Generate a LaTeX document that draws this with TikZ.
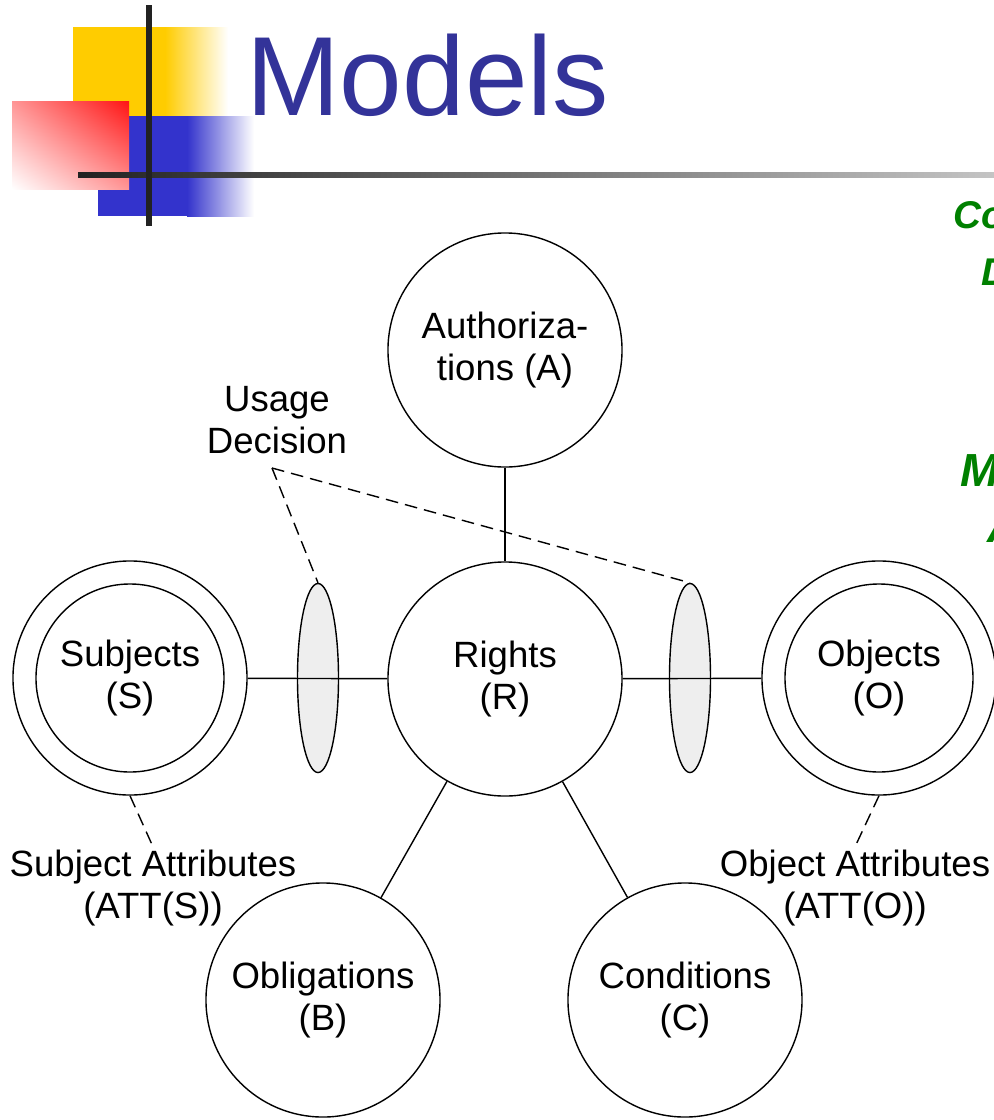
\documentclass[tikz,border=0pt]{standalone}
\usepackage{fontspec}
\setmainfont{Liberation Sans}
\usetikzlibrary{shapes.geometric,shadings}
\definecolor{titleblue}{HTML}{333399}
\definecolor{logoyellow}{HTML}{FFCC00}
\definecolor{logoblue}{HTML}{3333CC}
\definecolor{logored}{HTML}{FF1414}
\definecolor{bardark}{HTML}{222222}
\definecolor{barlight}{HTML}{C4C4C4}
\definecolor{gategray}{HTML}{EEEEEE}
\definecolor{sidegreen}{HTML}{008000}
\newcommand{\ucfont}{\fontsize{26}{30}\selectfont}
\newcommand{\titlefont}{\fontsize{80}{92}\selectfont}
\begin{document}
\begin{tikzpicture}[x=0.025cm, y=-0.025cm, font=\ucfont,
  entity/.style={circle, draw, line width=1pt, minimum size=5.85cm, inner sep=0pt, align=center},
  core/.style={circle, draw, line width=1pt, minimum size=4.7cm, inner sep=0pt, align=center},
  gate/.style={ellipse, draw, line width=1pt, fill=gategray, minimum width=1.025cm, minimum height=4.725cm, inner sep=0pt},
  link/.style={line width=1pt},
  hint/.style={line width=1pt, dash pattern=on 9pt off 5pt},
  note/.style={align=center, inner sep=2pt},
  side/.style={anchor=base, inner sep=0pt, text=sidegreen, font=\bfseries\itshape}]
  \useasboundingbox (0,0) rectangle (994,1120);
  \clip (0,0) rectangle (994,1120);
  % 标志
  \fill[logoyellow] (73,27) rectangle (165,116);
  \shade[left color=logoyellow, right color=white] (165,27) rectangle (228,116);
  \fill[logoblue] (98,116) rectangle (187,216);
  \shade[left color=logoblue, right color=white] (187,116) rectangle (254,216);
  \shade[upper right=logored, lower left=white, upper left=logored!45!white,
    lower right=logored!45!white] (12,101) rectangle (129,189);
  \shade[left color=bardark, right color=barlight] (78,172) rectangle (994,177);
  \fill[bardark] (146,5) rectangle (152,226);
  % 标题
  \node[anchor=base west, text=titleblue, font=\titlefont, inner sep=0pt] (title) at (246,115) {Models};
  % 右侧文字
  \node[side, font=\fontsize{27.5}{32}\selectfont\bfseries\itshape] (cont) at (1073,228) {Continuity of};
  \node[side, font=\fontsize{27.5}{32}\selectfont\bfseries\itshape] (dec) at (1073,285) {Decisions};
  \node[side, font=\fontsize{33}{38}\selectfont\bfseries\itshape] (mut) at (1097,486) {Mutability of};
  \node[side, font=\fontsize{33}{38}\selectfont\bfseries\itshape] (attr) at (1097,542) {Attributes};
  % 组件
  \node[entity] (A) at (505,350) {Authoriza-\\tions (A)};
  \node[entity] (R) at (505,679) {Rights\\(R)};
  \node[entity] (So) at (130,678) {};
  \node[core] (S) at (130,678) {Subjects\\(S)};
  \node[entity] (Oo) at (879,678) {};
  \node[core] (O) at (879,678) {Objects\\(O)};
  \node[entity] (B) at (323,1000) {Obligations\\(B)};
  \node[entity] (C) at (685,1000) {Conditions\\(C)};
  % 使用决策
  \node[gate] (gS) at (318,678) {};
  \node[gate] (gO) at (690,678) {};
  \node[note] (ud) at (277,420) {Usage\\Decision};
  \coordinate (udp) at (272,468);
  % 连线
  \draw[link] (So) -- (R);
  \draw[link] (R) -- (Oo);
  \draw[link] (A) -- (R);
  \draw[link] (R) -- (B);
  \draw[link] (R) -- (C);
  \draw[hint] (udp) -- (gS.north);
  \draw[hint] (udp) -- (gO.north);
  % 属性
  \node[note] (attS) at (153,888) {Subject Attributes\\(ATT(S))};
  \node[note] (attO) at (855,888) {Object Attributes\\(ATT(O))};
  \draw[hint] (So.south) -- (attS.north);
  \draw[hint] (Oo.south) -- (attO.north);
\end{tikzpicture}
\end{document}
